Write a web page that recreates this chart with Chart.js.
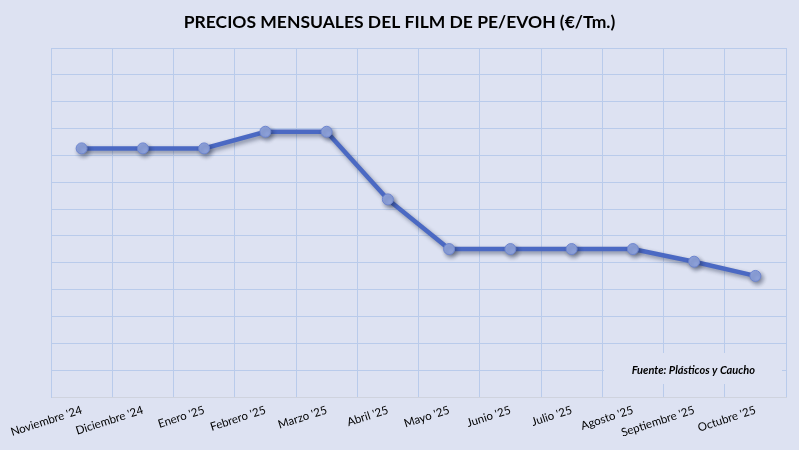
<!DOCTYPE html>
<html>
<head>
<meta charset="utf-8">
<script src="https://cdn.jsdelivr.net/npm/chart.js@4.4.1/dist/chart.umd.min.js"></script>
<style>
html,body{margin:0;padding:0;background:#dde2f2;}
#wrap{width:799px;height:450px;position:relative;}
</style>
</head>
<body>
<div id="wrap"><canvas id="c" width="799" height="450"></canvas></div>
<script>
const categories = ["Noviembre '24","Diciembre '24","Enero '25","Febrero '25","Marzo '25","Abril '25","Mayo '25","Junio '25","Julio '25","Agosto '25","Septiembre '25","Octubre '25"];
const precios = [926, 926, 926, 988, 988, 736, 551, 551, 551, 551, 504, 451];
const yMin = 0, yMax = 1300, yStep = 100;
const titulo = "PRECIOS MENSUALES DEL FILM DE PE/EVOH (€/Tm.)";
const fuente = "Fuente: Plásticos y Caucho";

const GRID = '#b9cbeb';

const shadowPlugin = {
  id: 'shadow',
  beforeDatasetDraw(chart) {
    const ctx = chart.ctx;
    ctx.save();
    ctx.shadowColor = 'rgba(20,30,60,0.45)';
    ctx.shadowBlur = 4;
    ctx.shadowOffsetX = 2;
    ctx.shadowOffsetY = 2.5;
  },
  afterDatasetDraw(chart) { chart.ctx.restore(); }
};

const notePlugin = {
  id: 'note',
  beforeDatasetsDraw(chart) {
    const ctx = chart.ctx;
    const ca = chart.chartArea;
    ctx.save();
    ctx.fillStyle = '#dde2f2';
    ctx.fillRect(ca.right - 182, ca.bottom - 44, 178, 31);
    ctx.fillStyle = '#000';
    ctx.font = 'italic bold 11px Lato, "Open Sans", sans-serif';
    ctx.textAlign = 'right';
    ctx.textBaseline = 'middle';
    ctx.fillText(fuente, ca.right - 31, ca.bottom - 27);
    ctx.restore();
  }
};

new Chart(document.getElementById('c'), {
  type: 'line',
  data: {
    labels: categories,
    datasets: [{
      data: precios,
      borderColor: '#4b69c3',
      borderWidth: 4.5,
      pointRadius: 5.5,
      pointBackgroundColor: '#8fa3dc',
      pointBorderColor: '#6d85cf',
      pointBorderWidth: 1,
      tension: 0,
      fill: false
    }]
  },
  options: {
    responsive: false,
    animation: false,
    devicePixelRatio: 1,
    layout: { padding: 0 },
    plugins: {
      legend: { display: false },
      tooltip: { enabled: false },
      title: {
        display: true,
        text: titulo,
        color: '#000',
        font: { family: 'Lato, "Open Sans", sans-serif', size: 17.5, weight: 'bold' },
        padding: { top: 12, bottom: 15 }
      }
    },
    scales: {
      x: {
        offset: true,
        grid: { color: GRID, lineWidth: 1, offset: true, drawTicks: false },
        border: { display: true, color: '#cfd3de' },
        ticks: {
          autoSkip: false,
          minRotation: 18,
          maxRotation: 18,
          color: '#000',
          padding: 6,
          font: { family: 'Lato, "Open Sans", sans-serif', size: 11.5 }
        },
        afterFit(scale) { scale.height = 53; }
      },
      y: {
        min: yMin, max: yMax,
        ticks: { display: false, stepSize: yStep },
        grid: { color: GRID, lineWidth: 1, drawTicks: false },
        border: { display: true, color: GRID },
        afterFit(scale) { scale.width = 51; }
      },
      y2: {
        position: 'right',
        min: yMin, max: yMax,
        ticks: { display: false },
        grid: { display: false, drawTicks: false },
        border: { display: false },
        afterFit(scale) { scale.width = 13; }
      }
    }
  },
  plugins: [shadowPlugin, notePlugin]
});
</script>
</body>
</html>
